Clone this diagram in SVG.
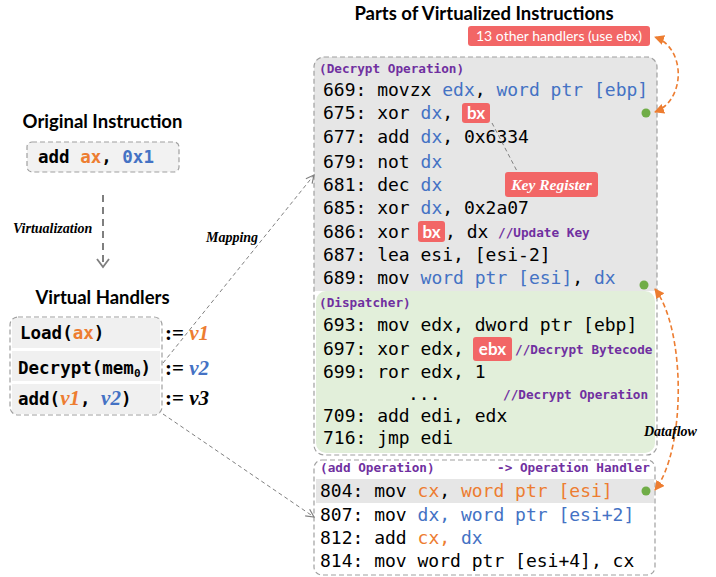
<svg xmlns="http://www.w3.org/2000/svg" width="716" height="577" viewBox="0 0 716 577">
<style>
.title{font-family:Lato,"Liberation Sans",sans-serif;font-weight:bold;font-size:18.5px;fill:#000}
.code{font-family:"DejaVu Sans Mono","Liberation Mono",monospace;font-size:18px;fill:#000}
.bcode{font-family:"DejaVu Sans Mono","Liberation Mono",monospace;font-size:17.5px;font-weight:bold;fill:#000}
.hdr{font-family:"DejaVu Sans Mono","Liberation Mono",monospace;font-size:12.7px;font-weight:bold;fill:#7030a0}
.lbl{font-family:"Liberation Serif",serif;font-style:italic;font-weight:bold;font-size:14px;fill:#000}
.math{font-family:"Liberation Serif",serif;font-weight:bold;font-size:21px;fill:#000}
.bl{fill:#4472c4}
.or{fill:#ed7d31}
.redbox{fill:#f26666}
.wt{font-family:Lato,"Liberation Sans",sans-serif;font-weight:bold;font-size:17px;fill:#fff}
.dash{fill:none;stroke:#a0a0a0;stroke-width:1.2;stroke-dasharray:5,3}
.dot{fill:#70ad47}
.conn{fill:none;stroke:#808080;stroke-width:1;stroke-dasharray:4,3}
.flow{fill:none;stroke:#ed7d31;stroke-width:1.6;stroke-dasharray:5,3}
</style>
<defs>
<marker id="open" viewBox="0 0 10 10" refX="9" refY="5" markerWidth="10" markerHeight="10" markerUnits="userSpaceOnUse" orient="auto">
<path d="M1,1 L9,5 L1,9" fill="none" stroke="#808080" stroke-width="1.2"/>
</marker>
<marker id="oarr" viewBox="0 0 10 10" refX="9" refY="5" markerWidth="10" markerHeight="10" markerUnits="userSpaceOnUse" orient="auto-start-reverse">
<path d="M0,0 L10,5 L0,10 z" fill="#ed7d31"/>
</marker>
</defs>

<!-- Left: original instruction -->
<g id="original">
<text class="title" x="102.5" y="128" text-anchor="middle">Original Instruction</text>
<rect x="27" y="142" width="152" height="30" rx="5" class="dash" style="fill:#f2f2f2"/>
<text class="bcode" x="38" y="163">add <tspan class="or">ax</tspan>, <tspan class="bl">0x1</tspan></text>
</g>

<g id="virtual-handlers">
<text class="title" x="102.5" y="304" text-anchor="middle">Virtual Handlers</text>
<rect x="12" y="318" width="148" height="30" fill="#f0f0f0"/>
<rect x="12" y="351" width="148" height="30" fill="#f0f0f0"/>
<rect x="12" y="384" width="148" height="30" fill="#f0f0f0"/>
<rect x="10" y="317" width="152" height="98" rx="8" class="dash"/>
<text class="bcode" x="20" y="339">Load(<tspan class="or">ax</tspan>)</text>
<text class="bcode" x="18" y="374">Decrypt(mem<tspan font-size="11" dy="3">0</tspan><tspan dy="-3">)</tspan></text>
<text class="bcode" x="18" y="405">add(<tspan class="math or" font-style="italic" font-size="20">v1</tspan>, <tspan class="math bl" font-style="italic" font-size="20">v2</tspan>)</text>
<text class="math" x="165" y="340">:= <tspan class="or" font-style="italic">v1</tspan></text>
<text class="math" x="165" y="375">:= <tspan class="bl" font-style="italic">v2</tspan></text>
<text class="math" x="165" y="405">:= <tspan font-style="italic">v3</tspan></text>
</g>

<!-- Right: parts -->
<g id="parts-title">
<text class="title" x="484" y="20" text-anchor="middle">Parts of Virtualized Instructions</text>
</g>

<g id="other-handlers">
<rect x="468" y="26" width="182" height="20" rx="3" class="redbox"/>
<text x="559" y="41" text-anchor="middle" style="font-family:Lato,'Liberation Sans',sans-serif;font-size:14px;fill:#fff">13 other handlers (use ebx)</text>
</g>

<g id="decrypt-operation">
<path d="M314,291 V67 Q314,57 324,57 H647 Q657,57 657,67 V291 Z" fill="#e6e6e6"/>
<text class="hdr" x="319" y="73">(Decrypt Operation)</text>
<text class="code" x="323" y="96">669: movzx <tspan class="bl">edx</tspan>, <tspan class="bl">word ptr [ebp]</tspan></text>
<text class="code" x="323" y="119">675: xor <tspan class="bl">dx</tspan>,</text>
<rect x="462" y="103" width="28" height="20" rx="3" class="redbox"/>
<text class="wt" x="476" y="119" text-anchor="middle">bx</text>
<text class="code" x="323" y="143">677: add <tspan class="bl">dx</tspan>, 0x6334</text>
<text class="code" x="323" y="168">679: not <tspan class="bl">dx</tspan></text>
<text class="code" x="323" y="191">681: dec <tspan class="bl">dx</tspan></text>
<text class="code" x="323" y="214">685: xor <tspan class="bl">dx</tspan>, 0x2a07</text>
<text class="code" x="323" y="238">686: xor</text>
<rect x="418" y="221" width="27" height="21" rx="3" class="redbox"/>
<text class="wt" x="431.5" y="238" text-anchor="middle">bx</text>
<text class="code" x="445" y="238">, dx</text>
<text class="hdr" x="498" y="237">//Update Key</text>
<text class="code" x="323" y="261">687: lea esi, [esi-2]</text>
<text class="code" x="323" y="284">689: mov <tspan class="bl">word ptr [esi]</tspan>, <tspan class="bl">dx</tspan></text>
</g>

<g id="dispatcher">
<rect x="316" y="291" width="339" height="162" rx="10" fill="#e2efda"/>
<text class="hdr" x="319" y="307">(Dispatcher)</text>
<text class="code" x="323" y="331">693: mov edx, dword ptr [ebp]</text>
<text class="code" x="323" y="355">697: xor edx,</text>
<rect x="473" y="337" width="39" height="24" rx="3" class="redbox"/>
<text class="wt" x="492.5" y="355" text-anchor="middle">ebx</text>
<text class="hdr" x="515" y="354">//Decrypt Bytecode</text>
<text class="code" x="323" y="378">699: ror edx, 1</text>
<text class="code" x="408" y="400">...</text>
<text class="hdr" x="503" y="399">//Decrypt Operation</text>
<text class="code" x="323" y="422">709: add edi, edx</text>
<text class="code" x="323" y="444">716: jmp edi</text>
</g>
<rect x="314" y="57" width="343" height="398" rx="10" class="dash"/>

<g id="key-register">
<line x1="492" y1="123" x2="518" y2="173" stroke="#808080" stroke-width="1" stroke-dasharray="4,3"/>
<rect x="505" y="172" width="93" height="25" rx="3" class="redbox"/>
<text x="551.5" y="190" text-anchor="middle" style="font-family:'Liberation Serif',serif;font-style:italic;font-weight:bold;font-size:15.5px;fill:#fff">Key Register</text>
</g>

<g id="add-operation">
<rect x="314" y="460" width="341" height="115" rx="8" fill="#fff"/>
<rect x="316" y="479" width="338" height="24" fill="#e6e6e6"/>
<rect x="314" y="460" width="341" height="115" rx="8" class="dash"/>
<text class="hdr" x="320" y="472">(add Operation)</text>
<text class="hdr" x="497" y="472">-&gt; Operation Handler</text>
<text class="code" x="320" y="497">804: mov <tspan class="or">cx</tspan>, <tspan class="or">word ptr [esi]</tspan></text>
<text class="code" x="320" y="521">807: mov <tspan class="bl">dx, word ptr [esi+2]</tspan></text>
<text class="code" x="320" y="544">812: add <tspan class="or">cx,</tspan> <tspan class="bl">dx</tspan></text>
<text class="code" x="320" y="567">814: mov word ptr [esi+4], cx</text>
</g>

<g id="dots">
<circle cx="646" cy="113" r="4.5" class="dot"/>
<circle cx="644" cy="285" r="4.5" class="dot"/>
<circle cx="646" cy="491" r="4.5" class="dot"/>
</g>

<g id="connectors">
<line x1="103" y1="195" x2="103" y2="267" stroke="#7f7f7f" stroke-width="2" stroke-dasharray="7,5"/>
<path d="M97,259 L103,267 L109,259" fill="none" stroke="#7f7f7f" stroke-width="1.8"/>
<text class="lbl" x="13" y="233">Virtualization</text>
<line x1="163" y1="363" x2="314" y2="175" class="conn" marker-end="url(#open)"/>
<text class="lbl" x="206" y="242">Mapping</text>
<line x1="163" y1="414" x2="314" y2="517" class="conn" marker-end="url(#open)"/>
<path d="M655,112 C686,100 686,48 655,37" class="flow" marker-start="url(#oarr)" marker-end="url(#oarr)"/>
<path d="M655,289 C686,330 686,450 655,490" class="flow" marker-start="url(#oarr)" marker-end="url(#oarr)"/>
<text class="lbl" x="644" y="436">Dataflow</text>
</g>
</svg>
